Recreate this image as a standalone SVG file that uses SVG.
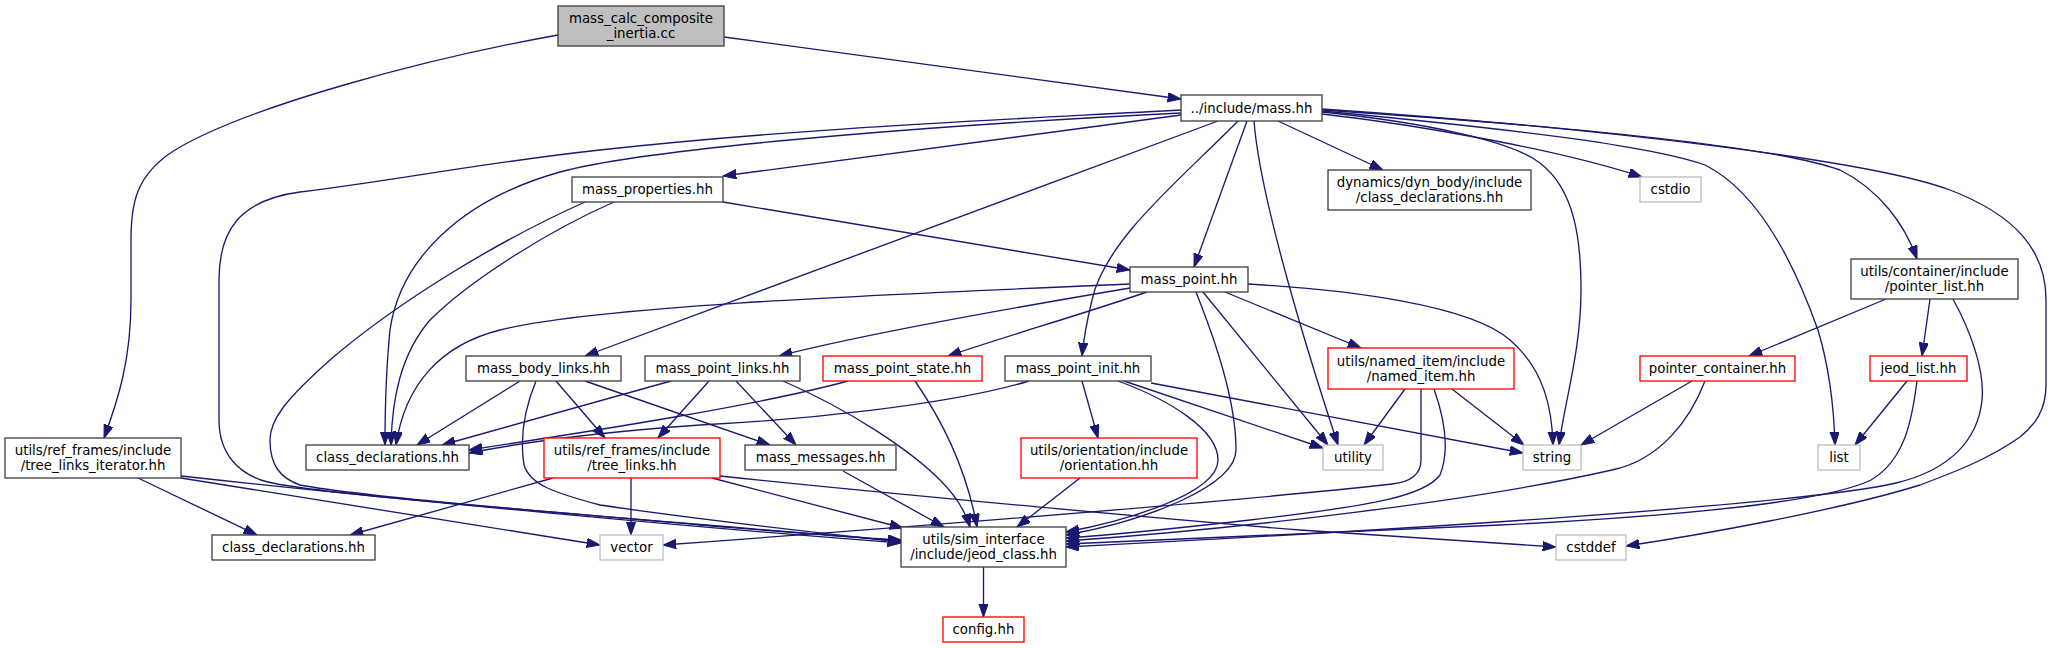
<svg xmlns="http://www.w3.org/2000/svg" width="2061" height="648" viewBox="0 0 2061 648">
<defs>
<marker id="a" markerUnits="userSpaceOnUse" markerWidth="14" markerHeight="10" viewBox="0 0 14 10" refX="13.3" refY="4.7" orient="auto">
<path d="M0,0 L13.3,4.7 L0,9.4 z" fill="#191970" stroke="#191970" stroke-width="1"/>
</marker>
</defs>
<style>
.n rect{fill:#fff;stroke:#404040;stroke-width:1.33}
.n.g rect{stroke:#bfbfbf}
.n.r rect{stroke:#ff0000}
.n.root rect{fill:#bfbfbf}
text{font-family:"DejaVu Sans","Liberation Sans",sans-serif;font-size:13.33px;fill:#000;text-anchor:middle}
.e path{fill:none;stroke:#191970;stroke-width:1.33;marker-end:url(#a)}
</style>
<rect width="2061" height="648" fill="#fff"/>
<g class="e" id="edges">
<path d="M724,37 L1181,99"/>
<path d="M558,35 C430,58 250,105 175,150 C135,175 131,205 131,240 L131,300 C131,360 118,400 104,438"/>
<path d="M1181,115 L723,176"/>
<path d="M1278,121 L1383,170"/>
<path d="M1322,114 C1420,125 1560,150 1642,177"/>
<path d="M1322,112 C1420,122 1510,140 1540,163 C1575,190 1581,240 1581,290 C1581,350 1565,400 1559,445"/>
<path d="M1322,111 C1500,128 1650,145 1705,165 C1765,195 1800,280 1818,330 C1830,370 1834,410 1835,445"/>
<path d="M1322,110 C1550,125 1770,145 1840,170 C1880,190 1905,225 1917,259"/>
<path d="M1322,109 C1600,128 1870,160 1950,190 C2015,215 2046,250 2046,300 L2046,385 C2046,410 2035,425 2020,437 C1990,458 1960,470 1920,485 C1840,510 1700,535 1626,546"/>
<path d="M1247,121 L1194,267"/>
<path d="M1218,121 L585,356"/>
<path d="M1238,121 C1180,180 1105,240 1092,300 C1086,325 1083,345 1082,356"/>
<path d="M1254,121 C1260,200 1310,360 1338,445"/>
<path d="M1181,113 C900,127 640,150 560,172 C460,200 400,260 390,330 C386,370 385,410 385,445"/>
<path d="M1181,110 C1000,120 800,128 600,150 C480,163 400,180 300,192 C240,200 219,230 219,280 L219,420 C219,455 240,475 268,482 C320,495 600,515 700,525 C800,533 860,538 901,540"/>
<path d="M585,202 C500,240 400,300 330,360 C285,400 270,420 270,440 C270,465 280,478 300,485 C380,500 650,520 901,541"/>
<path d="M536,381 C524,410 520,440 524,465 C530,485 555,493 600,505 C700,520 820,533 901,542"/>
<path d="M181,476 C400,500 700,528 901,543"/>
<path d="M1118,381 C1170,400 1218,430 1218,460 C1218,495 1120,522 1066,532"/>
<path d="M1196,292 C1215,340 1236,400 1236,450 C1236,485 1150,520 1066,535"/>
<path d="M1434,389 C1445,420 1450,450 1440,475 C1425,495 1380,505 1250,520 C1180,528 1110,535 1066,538"/>
<path d="M1421,389 L1421,460 C1421,475 1410,482 1392,484 C1200,505 800,535 663,545"/>
<path d="M1705,381 C1690,420 1660,460 1612,470 C1480,500 1250,528 1066,541"/>
<path d="M1917,381 C1912,420 1905,460 1871,480 C1830,500 1700,515 1500,525 C1300,535 1150,540 1066,544"/>
<path d="M1953,299 C1970,330 1985,370 1982,400 C1978,440 1950,470 1896,483 C1800,505 1400,530 1066,547"/>
<path d="M1080,478 L1017,527"/>
<path d="M843,471 L944,527"/>
<path d="M712,478 L903,528"/>
<path d="M783,381 C850,410 910,450 940,480 C955,495 965,510 970,527"/>
<path d="M915,381 C935,410 965,460 977,527"/>
<path d="M983.5,567 L983.5,617"/>
<path d="M723,202 L1130,270"/>
<path d="M614,202 C550,230 470,280 430,320 C400,355 392,400 391,445"/>
<path d="M1130,288 C1000,310 860,335 779,356"/>
<path d="M1147,292 C1080,315 1000,338 948,356"/>
<path d="M1130,284 C900,294 600,305 500,330 C440,345 405,385 396,445"/>
<path d="M1225,292 L1361,348"/>
<path d="M1203,292 L1328,445"/>
<path d="M1248,284 C1350,290 1470,305 1510,340 C1545,370 1552,410 1553,445"/>
<path d="M520,381 L417,445"/>
<path d="M556,381 L605,438"/>
<path d="M585,381 L770,445"/>
<path d="M671,381 L442,445"/>
<path d="M709,381 L658,438"/>
<path d="M736,381 L796,445"/>
<path d="M848,381 C760,405 600,430 469,450"/>
<path d="M1029,381 C950,405 800,420 700,425 C600,432 520,443 469,453"/>
<path d="M1082,381 L1098,438"/>
<path d="M1124,381 L1323,448"/>
<path d="M1151,383 L1523,453"/>
<path d="M1405,389 L1364,445"/>
<path d="M1452,389 L1524,445"/>
<path d="M1692,381 L1581,445"/>
<path d="M1907,381 L1855,445"/>
<path d="M1886,299 L1749,356"/>
<path d="M1930,299 L1922,356"/>
<path d="M553,478 L350,535"/>
<path d="M631,478 L631,535"/>
<path d="M720,476 C900,495 1200,522 1300,530 C1400,537 1480,542 1556,547"/>
<path d="M138,478 L257,535"/>
<path d="M181,478 L600,545"/>
</g>
<g id="n1" class="n root"><rect x="558" y="6" width="166" height="40"/><text x="641" y="23">mass_calc_composite</text><text x="641" y="38">_inertia.cc</text></g>
<g id="n2" class="n"><rect x="1181" y="95" width="141" height="26"/><text x="1251.5" y="112.5">../include/mass.hh</text></g>
<g id="n3" class="n"><rect x="572" y="177" width="151" height="25"/><text x="647.5" y="194">mass_properties.hh</text></g>
<g id="n4" class="n"><rect x="1328" y="170" width="203" height="40"/><text x="1429.5" y="187">dynamics/dyn_body/include</text><text x="1429.5" y="202">/class_declarations.hh</text></g>
<g id="n5" class="n g"><rect x="1640" y="177" width="61" height="25"/><text x="1670.5" y="194">cstdio</text></g>
<g id="n6" class="n"><rect x="1130" y="267" width="118" height="25"/><text x="1189" y="284">mass_point.hh</text></g>
<g id="n7" class="n"><rect x="1851" y="259" width="167" height="40"/><text x="1934.5" y="276">utils/container/include</text><text x="1934.5" y="291">/pointer_list.hh</text></g>
<g id="n8" class="n"><rect x="466" y="356" width="155" height="25"/><text x="543.5" y="373">mass_body_links.hh</text></g>
<g id="n9" class="n"><rect x="645" y="356" width="155" height="25"/><text x="722.5" y="373">mass_point_links.hh</text></g>
<g id="n10" class="n r"><rect x="823" y="356" width="159" height="25"/><text x="902.5" y="373">mass_point_state.hh</text></g>
<g id="n11" class="n"><rect x="1005" y="356" width="146" height="25"/><text x="1078" y="373">mass_point_init.hh</text></g>
<g id="n12" class="n r"><rect x="1328" y="348" width="186" height="41"/><text x="1421" y="365.5">utils/named_item/include</text><text x="1421" y="380.5">/named_item.hh</text></g>
<g id="n13" class="n r"><rect x="1640" y="356" width="155" height="25"/><text x="1717.5" y="373">pointer_container.hh</text></g>
<g id="n14" class="n r"><rect x="1870" y="356" width="97" height="25"/><text x="1918.5" y="373">jeod_list.hh</text></g>
<g id="n15" class="n"><rect x="5" y="438" width="176" height="40"/><text x="93" y="455">utils/ref_frames/include</text><text x="93" y="470">/tree_links_iterator.hh</text></g>
<g id="n16" class="n"><rect x="306" y="445" width="163" height="25"/><text x="387.5" y="462">class_declarations.hh</text></g>
<g id="n17" class="n r"><rect x="544" y="438" width="176" height="40"/><text x="632" y="455">utils/ref_frames/include</text><text x="632" y="470">/tree_links.hh</text></g>
<g id="n18" class="n"><rect x="745" y="445" width="151" height="25"/><text x="820.5" y="462">mass_messages.hh</text></g>
<g id="n19" class="n r"><rect x="1021" y="438" width="176" height="40"/><text x="1109" y="455">utils/orientation/include</text><text x="1109" y="470">/orientation.hh</text></g>
<g id="n20" class="n g"><rect x="1323" y="445" width="60" height="25"/><text x="1353" y="462">utility</text></g>
<g id="n21" class="n g"><rect x="1523" y="445" width="58" height="25"/><text x="1552" y="462">string</text></g>
<g id="n22" class="n g"><rect x="1818" y="445" width="42" height="25"/><text x="1839" y="462">list</text></g>
<g id="n23" class="n"><rect x="212" y="535" width="163" height="25"/><text x="293.5" y="552">class_declarations.hh</text></g>
<g id="n24" class="n g"><rect x="600" y="535" width="63" height="25"/><text x="631.5" y="552">vector</text></g>
<g id="n25" class="n"><rect x="901" y="527" width="165" height="40"/><text x="983.5" y="544">utils/sim_interface</text><text x="983.5" y="559">/include/jeod_class.hh</text></g>
<g id="n26" class="n g"><rect x="1556" y="535" width="70" height="25"/><text x="1591" y="552">cstddef</text></g>
<g id="n27" class="n r"><rect x="943" y="617" width="81" height="25"/><text x="983.5" y="634">config.hh</text></g>
</svg>
